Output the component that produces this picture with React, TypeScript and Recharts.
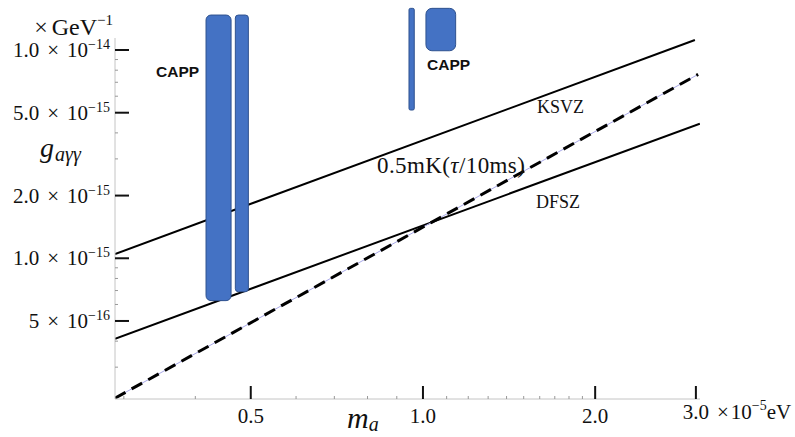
import React from 'react';
import { ComposedChart, Line, XAxis, YAxis, ReferenceArea } from 'recharts';

// ---- data ----
const xMajorTicks = [0.5, 1.0, 2.0, 3.0];
const xTickLabels = ['0.5', '1.0', '2.0', '3.0'];
const xMinorTicks = [0.3, 0.4, 0.6, 0.7, 0.8, 0.9, 1.1, 1.2, 1.3, 1.4, 1.5, 1.6, 1.7, 1.8, 1.9];

const yMajorTicks = [5e-16, 1e-15, 2e-15, 5e-15, 1e-14];
const yTickMantissa = ['5', '1.0', '2.0', '5.0', '1.0'];
const yTickExponent = ['\u221216', '\u221215', '\u221215', '\u221215', '\u221214'];
const yMinorTicks = [3e-16, 4e-16, 6e-16, 7e-16, 8e-16, 9e-16, 3e-15, 4e-15, 6e-15, 7e-15, 8e-15, 9e-15];

const xDomain = [0.2895, 3.05];
const yDomain = [2.11e-16, 1.142e-14];

const ksvz = [
  { m: 0.2895, g: 1.049e-15 },
  { m: 2.988, g: 1.117e-14 },
];
const dfsz = [
  { m: 0.2895, g: 4.11e-16 },
  { m: 3.048, g: 4.43e-15 },
];
const sensitivity = [
  { m: 0.2895, g: 2.13e-16 },
  { m: 3.027, g: 7.64e-15 },
];

// CAPP exclusion regions: mass range (x 1e-5 eV) and coupling range (GeV^-1)
const cappMassLow = [0.4176, 0.4699, 0.9453, 1.0121];
const cappMassHigh = [0.4619, 0.4952, 0.9656, 1.1406];
const cappCouplingLow = [6.26e-16, 6.91e-16, 5.15e-15, 9.92e-15];
const cappCouplingHigh = [1.472e-14, 1.472e-14, 1.585e-14, 1.585e-14];

// ---- styles ----
const cappRadii = [5, 3, 1.5, 6];
const SERIF = "'Liberation Serif', 'Times New Roman', serif";
const SANS = "'Liberation Sans', Arial, sans-serif";
const INK = '#111';
const AXIS_GREY = '#c4c4c4';
const W = 795;
const H = 437;
const MARGIN = { top: 38, right: 95, bottom: 0, left: 0 };

const makeBox = (r: number) => (p: any) => (
  <rect
    x={p.x}
    y={p.y}
    width={p.width}
    height={p.height}
    rx={r}
    ry={r}
    fill="#4472C4"
    stroke="#2F528F"
    strokeWidth={1}
  />
);

const YTick = (props: any) => {
  const { x, y, payload } = props;
  const i = yMajorTicks.indexOf(payload.value);
  if (i < 0) {
    return <line x1={x} x2={x + 3} y1={y} y2={y} stroke="#999" strokeWidth={1} />;
  }
  return (
    <g>
      <line x1={x} x2={x + 14} y1={y} y2={y} stroke={INK} strokeWidth={2} />
      <text x={x - 5} y={y + 7} textAnchor="end" fontFamily={SERIF} fontSize={21} fill={INK}>
        {yTickMantissa[i]}
        <tspan dx={8}>×</tspan>
        <tspan dx={8}>10</tspan>
        <tspan dy={-8} fontSize={14}>{yTickExponent[i]}</tspan>
      </text>
    </g>
  );
};

const XTick = (props: any) => {
  const { x, y, payload } = props;
  const i = xMajorTicks.indexOf(payload.value);
  if (i < 0) {
    return <line x1={x} x2={x} y1={y} y2={y - 3} stroke="#999" strokeWidth={1} />;
  }
  const last = i === xMajorTicks.length - 1;
  return (
    <g>
      <line x1={x} x2={x} y1={y} y2={y - 13} stroke={INK} strokeWidth={2} />
      <text
        x={x}
        y={last ? y + 19.5 : y + 23.5}
        textAnchor="middle"
        fontFamily={SERIF}
        fontSize={21}
        fill={INK}
      >
        {xTickLabels[i]}
      </text>
    </g>
  );
};

const axes = (visible: boolean) => [
  <XAxis
    key="x"
    type="number"
    dataKey="m"
    scale="log"
    domain={xDomain}
    allowDataOverflow
    ticks={[...xMinorTicks, ...xMajorTicks]}
    interval={0}
    tick={visible ? <XTick /> : false}
    tickLine={false}
    tickSize={0}
    tickMargin={0}
    axisLine={visible ? { stroke: AXIS_GREY, strokeWidth: 1 } : false}
    height={38}
  />,
  <YAxis
    key="y"
    type="number"
    dataKey="g"
    scale="log"
    domain={yDomain}
    allowDataOverflow
    ticks={[...yMinorTicks, ...yMajorTicks]}
    interval={0}
    tick={visible ? <YTick /> : false}
    tickLine={false}
    tickSize={0}
    tickMargin={0}
    axisLine={visible ? { stroke: AXIS_GREY, strokeWidth: 1 } : false}
    width={115}
  />,
];

export default function App() {
  return (
    <div style={{ position: 'absolute', left: 0, top: 0, width: W, height: H, background: '#fff' }}>
      <ComposedChart width={W} height={H} margin={MARGIN}>
        {axes(true)}
        <Line
          data={ksvz}
          dataKey="g"
          type="linear"
          stroke="#000"
          strokeWidth={2}
          dot={false}
          activeDot={false}
          isAnimationActive={false}
        />
        <Line
          data={dfsz}
          dataKey="g"
          type="linear"
          stroke="#000"
          strokeWidth={2}
          dot={false}
          activeDot={false}
          isAnimationActive={false}
        />
        <Line
          data={sensitivity}
          dataKey="g"
          type="linear"
          stroke="#a8a8e8"
          strokeWidth={1}
          dot={false}
          activeDot={false}
          isAnimationActive={false}
        />
        <Line
          data={sensitivity}
          dataKey="g"
          type="linear"
          stroke="#000"
          strokeWidth={3}
          strokeDasharray="12 7"
          dot={false}
          activeDot={false}
          isAnimationActive={false}
        />
      </ComposedChart>

      {/* CAPP regions drawn on top of the lines, on identical axes */}
      <div style={{ position: 'absolute', left: 0, top: 0 }}>
        <ComposedChart width={W} height={H} margin={MARGIN}>
          {axes(false)}
          <Line
            data={ksvz}
            dataKey="g"
            stroke="none"
            dot={false}
            activeDot={false}
            isAnimationActive={false}
          />
          {cappMassLow.map((m1, i) => (
            <ReferenceArea
              key={'capp' + i}
              x1={m1}
              x2={cappMassHigh[i]}
              y1={cappCouplingLow[i]}
              y2={cappCouplingHigh[i]}
              ifOverflow="visible"
              shape={makeBox(cappRadii[i])}
            />
          ))}
        </ComposedChart>
      </div>

      <svg
        width={W}
        height={H}
        style={{ position: 'absolute', left: 0, top: 0, pointerEvents: 'none' }}
      >
        {/* y axis unit */}
        <text x={113} y={35} textAnchor="end" fontFamily={SERIF} fontSize={24} fill={INK}>
          ×<tspan dx={4}>GeV</tspan>
          <tspan dy={-10} fontSize={15}>{'\u22121'}</tspan>
        </text>
        {/* y axis label */}
        <text x={40} y={157} fontFamily={SERIF} fontSize={28} fontStyle="italic" fill={INK}>
          g
          <tspan dx={1} dy={4} fontSize={20}>aγγ</tspan>
        </text>
        {/* x axis label */}
        <text x={347} y={428} fontFamily={SERIF} fontSize={30} fontStyle="italic" fill={INK}>
          m
          <tspan dy={3} fontSize={20}>a</tspan>
        </text>
        {/* x axis unit */}
        <text x={717} y={418.5} fontFamily={SERIF} fontSize={21} fill={INK}>
          ×<tspan dx={2}>10</tspan>
          <tspan dy={-9} fontSize={14}>{'\u22125'}</tspan>
          <tspan dy={9}>eV</tspan>
        </text>
        {/* annotations */}
        <text x={537} y={113} fontFamily={SERIF} fontSize={18} fill={INK}>KSVZ</text>
        <text x={536} y={208} fontFamily={SERIF} fontSize={18} fill={INK}>DFSZ</text>
        <text x={377} y={173} fontFamily={SERIF} fontSize={23} letterSpacing={0.4} fill={INK}>
          0.5mK(<tspan fontStyle="italic">τ</tspan>/10ms)
        </text>
        <text x={156} y={76.5} fontFamily={SANS} fontWeight="bold" fontSize={15.5} fill={INK}>CAPP</text>
        <text x={427} y={69.5} fontFamily={SANS} fontWeight="bold" fontSize={15.5} fill={INK}>CAPP</text>
      </svg>
    </div>
  );
}
